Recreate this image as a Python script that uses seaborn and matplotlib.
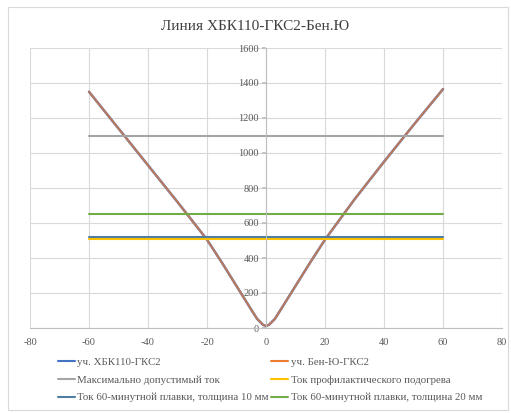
import matplotlib
matplotlib.use("Agg")
import matplotlib.pyplot as plt
import seaborn as sns
import pandas as pd
from matplotlib.patches import Rectangle

# ---- data ----
temps = [-60, -50, -40, -30, -20, -15, -10, -5, -3, -1, 0, 1, 3, 5, 10, 15, 20, 30, 40, 50, 60]
current_hbk = [1350, 1140, 930, 720, 505, 375, 240, 105, 52, 18, 12, 18, 52, 105, 240, 375, 505, 735, 950, 1160, 1365]
current_ben = [1350, 1140, 930, 720, 505, 375, 240, 105, 52, 18, 12, 18, 52, 105, 240, 375, 505, 735, 950, 1160, 1365]
limit_x = [-60, 60]
max_current = [1095, 1095]
preheat_current = [510, 510]
melt_10mm = [520, 520]
melt_20mm = [650, 650]

title = "Линия ХБК110-ГКС2-Бен.Ю"
labels = ["уч. ХБК110-ГКС2", "уч. Бен-Ю-ГКС2", "Максимально допустимый ток",
          "Ток профилактического подогрева", "Ток 60-минутной плавки, толщина 10 мм",
          "Ток 60-минутной плавки, толщина 20 мм"]
x_ticks = [-80, -60, -40, -20, 0, 20, 40, 60, 80]
y_ticks = [0, 200, 400, 600, 800, 1000, 1200, 1400, 1600]

sns.set_theme(style="white")
plt.rcParams['font.family'] = ['Liberation Serif', 'DejaVu Serif']
plt.rcParams['axes.unicode_minus'] = False

fig = plt.figure(figsize=(5.11, 4.13), dpi=100)
ax = fig.add_axes([30/511, 1-328/413, 472/511, 280/413])

df_curve = pd.DataFrame({"t": temps, "a": current_hbk, "b": current_ben})
lw = 1.5
sns.lineplot(data=df_curve, x="t", y="a", ax=ax, color="#4472C4", lw=1.8, label=labels[0])
sns.lineplot(data=df_curve, x="t", y="b", ax=ax, color="#ED7D31", lw=1.5, alpha=0.7, label=labels[1])
sns.lineplot(x=limit_x, y=max_current, ax=ax, color="#A5A5A5", lw=lw, label=labels[2])
sns.lineplot(x=limit_x, y=preheat_current, ax=ax, color="#FFC000", lw=lw, label=labels[3])
sns.lineplot(x=limit_x, y=melt_10mm, ax=ax, color="#4E7FA0", lw=lw, label=labels[4])
sns.lineplot(x=limit_x, y=melt_20mm, ax=ax, color="#70AD47", lw=lw, label=labels[5])

ax.set_xlim(-80, 80)
ax.set_ylim(0, 1600)
ax.set_xticks(x_ticks)
ax.set_yticks(y_ticks)
ax.set_xlabel("")
ax.set_ylabel("")
ax.grid(True, color="#D9D9D9", lw=0.8)
ax.set_axisbelow(True)
for s in ["top", "right"]:
    ax.spines[s].set_visible(False)
ax.spines["left"].set_position(("data", 0))
ax.spines["left"].set_color("#BFBFBF")
ax.spines["bottom"].set_color("#BFBFBF")
ax.spines["left"].set_linewidth(0.8)
ax.spines["bottom"].set_linewidth(0.8)
ax.tick_params(axis="y", length=3, color="#BFBFBF", labelsize=7.5, labelcolor="#595959", pad=2, left=True)
ax.tick_params(axis="x", length=0, labelsize=7.5, labelcolor="#595959", pad=7)

fig.text(0.5, 1-27/413, title, ha="center", va="center", fontsize=11, color="#404040")

h, l = ax.get_legend_handles_labels()
order = [0, 2, 4, 1, 3, 5]
leg = ax.legend([h[i] for i in order], [l[i] for i in order], ncol=2,
                loc="upper left", bbox_to_anchor=(18/472, -0.07), frameon=False,
                fontsize=7.8, handlelength=1.6, handletextpad=0.2, columnspacing=0.2,
                labelspacing=0.75, labelcolor="#595959")
for line in leg.get_lines():
    line.set_linewidth(1.5)
    line.set_alpha(1)

fig.patches.append(Rectangle((8/511, 3/413), 500/511, 403/413, transform=fig.transFigure,
                             fill=False, edgecolor="#D9D9D9", lw=0.8))

fig.savefig("out.png", dpi=100)
